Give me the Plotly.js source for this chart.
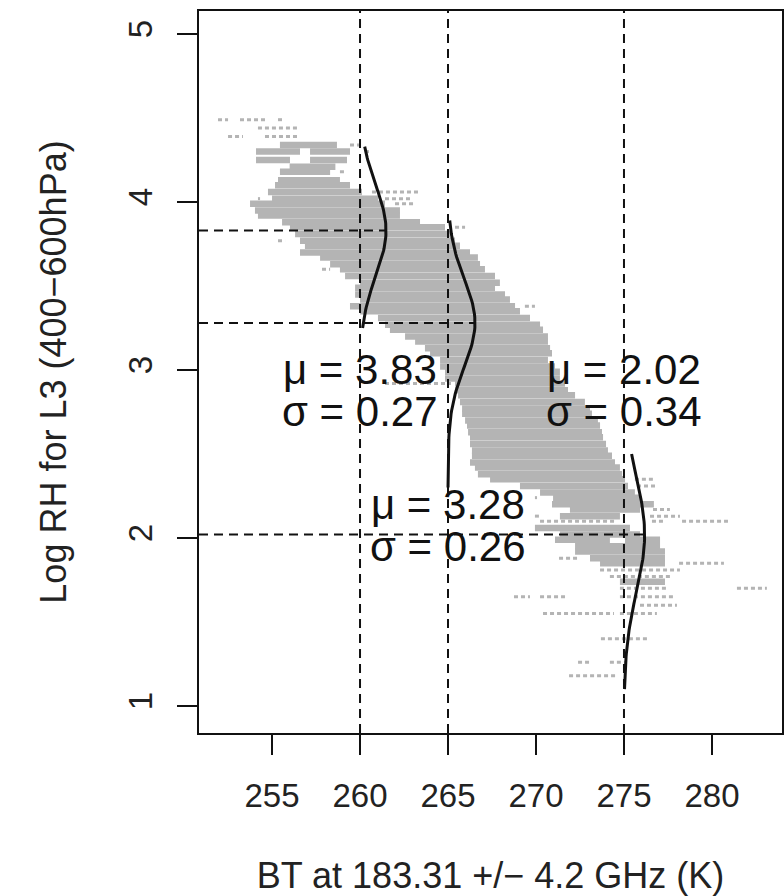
<!DOCTYPE html>
<html>
<head>
<meta charset="utf-8">
<script src="https://cdn.plot.ly/plotly-3.0.1.min.js"></script>
<style>
  html, body { margin: 0; padding: 0; background: #fff; }
  #chart { width: 784px; height: 896px; }
</style>
</head>
<body>
<div id="chart"></div>
<script>
// ---- data ----
const xTickVals = [255, 260, 265, 270, 275, 280];
const yTickVals = [1, 2, 3, 4, 5];

// dense horizontal streaks of the scatter cloud: y, x start, x end
const denseY  = [4.34, 4.30, 4.30, 4.25, 4.25, 4.21, 4.18, 4.13, 4.10, 4.06, 4.02, 3.99, 3.95, 3.92, 3.88, 3.85, 3.81, 3.77, 3.74, 3.70, 3.67, 3.63, 3.60, 3.56, 3.52, 3.49, 3.45, 3.42, 3.38, 3.35, 3.31, 3.27, 3.24, 3.20, 3.17, 3.13, 3.10, 3.06, 3.02, 2.99, 2.95, 2.92, 2.88, 2.85, 2.81, 2.77, 2.74, 2.70, 2.67, 2.63, 2.60, 2.56, 2.52, 2.49, 2.45, 2.42, 2.38, 2.35, 2.31, 2.27, 2.24, 2.20, 2.17, 2.13, 2.06, 2.02, 1.99, 1.99, 1.95, 1.92, 1.88, 1.85, 1.74];
const denseX0 = [255.45, 254.09, 257.16, 254.09, 257.16, 256.00, 255.45, 255.34, 255.17, 254.77, 255.00, 253.75, 254.03, 254.20, 255.57, 256.02, 256.31, 256.59, 256.87, 256.59, 257.73, 258.30, 258.86, 259.15, 260.00, 259.72, 259.72, 260.00, 259.43, 260.00, 261.02, 261.42, 261.70, 262.56, 263.13, 263.69, 263.98, 264.55, 264.55, 264.83, 264.83, 265.40, 265.40, 265.57, 265.68, 265.80, 265.80, 265.97, 266.08, 266.14, 266.25, 266.25, 266.36, 266.36, 266.25, 266.53, 266.70, 267.39, 269.09, 270.23, 270.97, 270.91, 271.93, 271.36, 269.94, 271.36, 271.08, 275.06, 272.22, 272.22, 273.07, 273.64, 274.77];
const denseX1 = [258.69, 256.59, 259.43, 256.02, 259.26, 258.60, 258.30, 258.86, 259.43, 260.11, 261.02, 261.42, 262.27, 262.27, 263.41, 264.83, 265.11, 265.40, 265.68, 266.25, 266.70, 266.82, 267.10, 267.67, 267.95, 267.67, 268.24, 268.52, 268.81, 269.09, 269.66, 270.23, 270.40, 270.68, 270.68, 270.80, 270.91, 270.68, 271.08, 271.36, 271.36, 271.65, 271.82, 272.22, 272.78, 273.07, 273.18, 273.52, 273.64, 273.75, 273.81, 273.98, 274.09, 274.32, 274.49, 274.77, 274.89, 275.06, 275.23, 275.62, 275.91, 276.70, 275.91, 274.77, 275.34, 275.91, 274.20, 277.05, 277.05, 277.33, 277.33, 277.33, 277.33];

// sparse streaks (isolated "+" points) of the scatter cloud
const sparseY  = [4.49, 4.49, 4.49, 4.44, 4.39, 4.39, 4.34, 4.30, 4.18, 4.06, 4.02, 4.02, 3.99, 3.85, 3.77, 3.60, 3.38, 2.92, 2.35, 2.31, 2.24, 2.17, 2.13, 2.13, 2.10, 2.10, 2.10, 1.88, 1.85, 1.81, 1.77, 1.70, 1.70, 1.65, 1.65, 1.65, 1.60, 1.55, 1.55, 1.40, 1.26, 1.26, 1.18];
const sparseX0 = [251.93, 253.18, 255.34, 254.20, 252.50, 254.60, 259.43, 260.28, 258.86, 260.68, 254.20, 261.42, 261.99, 265.40, 255.34, 257.84, 269.37, 261.42, 275.62, 275.74, 269.94, 276.65, 269.94, 276.48, 270.23, 276.59, 278.30, 271.31, 278.13, 273.64, 274.20, 274.77, 281.42, 268.75, 270.23, 274.77, 275.91, 270.40, 274.77, 273.69, 272.39, 274.20, 271.88];
const sparseX1 = [252.50, 254.77, 255.62, 256.48, 253.35, 256.59, 260.11, 260.57, 259.15, 263.41, 254.32, 262.84, 263.13, 265.97, 255.74, 258.30, 269.94, 265.17, 276.76, 276.87, 270.06, 277.61, 270.23, 278.18, 274.49, 277.22, 280.91, 272.50, 280.68, 278.18, 277.61, 277.44, 283.12, 269.66, 271.65, 277.90, 278.01, 274.43, 276.87, 276.31, 273.18, 275.17, 274.66];

// fitted normal distributions for three BT bins
const fitBT    = [260, 265, 275];
const fitMu    = [3.83, 3.28, 2.02];
const fitSigma = [0.27, 0.26, 0.34];
const fitYLow  = [3.25, 2.30, 1.10];
const fitYHigh = [4.33, 3.89, 2.50];

// ---- build traces ----
function streaks(ys, x0s, x1s) {
  const x = [], y = [];
  for (let i = 0; i < ys.length; i++) {
    x.push(x0s[i], x1s[i], null);
    y.push(ys[i], ys[i], null);
  }
  return {x, y};
}
const dense = streaks(denseY, denseX0, denseX1);
const sparse = streaks(sparseY, sparseX0, sparseX1);
const grey = '#b4b4b4';

const traces = [
  {type: 'scatter', mode: 'lines', x: dense.x, y: dense.y, connectgaps: false,
   line: {color: grey, width: 6.5}, hoverinfo: 'skip', showlegend: false},
  {type: 'scatter', mode: 'lines', x: sparse.x, y: sparse.y, connectgaps: false,
   line: {color: grey, width: 3, dash: '4px,3px'}, hoverinfo: 'skip', showlegend: false}
];

const SQ2PI = Math.sqrt(2 * Math.PI);
const peakX = [];
for (let k = 0; k < fitBT.length; k++) {
  const xs = [], ys = [];
  const n = 80;
  for (let i = 0; i <= n; i++) {
    const yy = fitYLow[k] + (fitYHigh[k] - fitYLow[k]) * i / n;
    const z = (yy - fitMu[k]) / fitSigma[k];
    xs.push(fitBT[k] + Math.exp(-0.5 * z * z) / (fitSigma[k] * SQ2PI));
    ys.push(yy);
  }
  peakX.push(fitBT[k] + 1 / (fitSigma[k] * SQ2PI));
  traces.push({type: 'scatter', mode: 'lines', x: xs, y: ys,
    line: {color: '#111', width: 3}, hoverinfo: 'skip', showlegend: false});
}

const xRange = [250.85, 283.98];
const yRange = [0.839, 5.137];

const shapes = [];
for (let k = 0; k < fitBT.length; k++) {
  shapes.push({type: 'line', xref: 'x', yref: 'paper', x0: fitBT[k], x1: fitBT[k], y0: 0, y1: 1,
    line: {color: '#111', width: 2, dash: '9px,6px'}});
  shapes.push({type: 'line', xref: 'x', yref: 'y', x0: xRange[0], x1: peakX[k], y0: fitMu[k], y1: fitMu[k],
    line: {color: '#111', width: 2, dash: '9px,6px'}});
}

const labelFont = {family: 'Liberation Sans, Arial, sans-serif', size: 42, color: '#111'};
const labelPos = [[260, 3.0, 2.75], [265, 2.2, 1.95], [275, 3.0, 2.75]];
const annotations = [];
for (let k = 0; k < fitBT.length; k++) {
  annotations.push({x: labelPos[k][0], y: labelPos[k][1], xref: 'x', yref: 'y', showarrow: false,
    text: 'μ = ' + fitMu[k].toFixed(2), font: labelFont, xanchor: 'center', yanchor: 'middle'});
  annotations.push({x: labelPos[k][0], y: labelPos[k][2], xref: 'x', yref: 'y', showarrow: false,
    text: 'σ = ' + fitSigma[k].toFixed(2), font: labelFont, xanchor: 'center', yanchor: 'middle'});
}

const axisFont = {family: 'Liberation Sans, Arial, sans-serif', size: 33, color: '#222'};
const titleFont = {family: 'Liberation Sans, Arial, sans-serif', size: 36, color: '#222'};

const layout = {
  width: 784, height: 896,
  margin: {l: 199, r: 2, t: 11, b: 163, pad: 0},
  paper_bgcolor: '#fff', plot_bgcolor: '#fff',
  showlegend: false,
  xaxis: {
    range: xRange, tickvals: xTickVals, ticktext: xTickVals.map(String),
    ticks: 'outside', ticklen: 20, tickwidth: 2, tickcolor: '#111',
    showgrid: false, zeroline: false, showline: true, mirror: true, linewidth: 2, linecolor: '#111',
    tickfont: axisFont, ticklabelstandoff: 12,
    title: {text: 'BT at 183.31 +/− 4.2 GHz (K)', font: titleFont, standoff: 58}
  },
  yaxis: {
    range: yRange, tickvals: yTickVals, ticktext: yTickVals.map(String),
    ticks: 'outside', ticklen: 20, tickwidth: 2, tickcolor: '#111', tickangle: -90,
    showgrid: false, zeroline: false, showline: true, mirror: true, linewidth: 2, linecolor: '#111',
    tickfont: axisFont, ticklabelstandoff: 12,
    title: {text: 'Log RH for L3 (400−600hPa)', font: titleFont, standoff: 44}
  },
  shapes: shapes,
  annotations: annotations
};

Plotly.newPlot('chart', traces, layout, {staticPlot: true, displayModeBar: false});
</script>
</body>
</html>
